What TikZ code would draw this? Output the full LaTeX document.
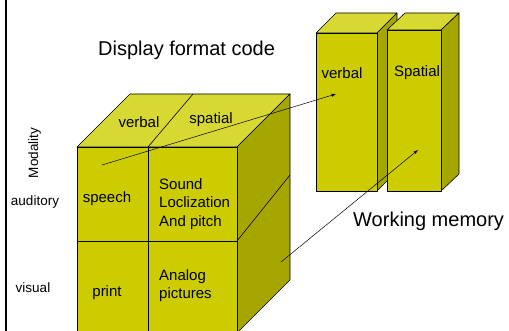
\documentclass[tikz,border=0pt]{standalone}
\usepackage{fontspec}
\setmainfont{Liberation Sans}
\usetikzlibrary{positioning,calc}
\definecolor{facefront}{RGB}{204,204,0}
\definecolor{facetop}{RGB}{216,216,51}
\definecolor{faceside}{RGB}{166,166,0}

\begin{document}
\begin{tikzpicture}
  [x=1pt,y=-1pt,
   face/.style={draw=black, line width=0.6pt, line join=round},
   frontface/.style={face, fill=facefront},
   topface/.style={face, fill=facetop},
   sideface/.style={face, fill=faceside},
   cell/.style={font=\fontsize{15}{18.5}\selectfont, align=left, inner sep=0pt},
   axis/.style={font=\fontsize{13.5}{16}\selectfont, inner sep=0pt},
   title/.style={font=\fontsize{20}{24}\selectfont, inner sep=0pt},
   link/.style={-latex, line width=0.5pt}
  ]
  \useasboundingbox (0,0) rectangle (509,331);

  % rule on the left
  \draw[line width=2pt] (6,0) -- (6,331);

  % working memory stores
  \draw[topface]  (316,33) -- (336,13) -- (397,13) -- (377,33) -- cycle;
  \draw[sideface] (377,33) -- (397,13) -- (397,171) -- (377,191) -- cycle;
  \draw[frontface] (316,33) rectangle (377,191);
  \draw[topface]  (387,30) -- (405,13) -- (459,13) -- (441,30) -- cycle;
  \draw[sideface] (441,30) -- (459,13) -- (459,174) -- (441,191) -- cycle;
  \draw[frontface] (387,30) rectangle (441,191);

  % the cube
  \draw[topface]  (77,147) -- (130,94) -- (290,94) -- (237,147) -- cycle;
  \draw[sideface] (237,147) -- (290,94) -- (290,280) -- (237,333) -- cycle;
  \draw[frontface] (77,147) rectangle (237,335);
  \draw[face] (148,147) -- (193,94);
  \draw[face] (148,147) -- (148,335);
  \draw[face] (77,241) -- (237,241);
  \draw[face] (237,241) -- (290,175);

  \node[title, anchor=base west] (displaytitle) at (98,56) {Display format code};
  \node[title, anchor=base west] (memorytitle) at (353,227) {Working memory};

  \node[cell, anchor=base] (verbaltop) at (139,128) {verbal};
  \node[cell, anchor=base] (spatialtop) at (211,124) {spatial};
  \node[cell, anchor=base] (speech) at (107,203) {speech};
  \node[cell, anchor=north west] (sound) at (159,178) {Sound\\Loclization\\And pitch};
  \node[cell, anchor=base] (print) at (107,297) {print};
  \node[cell, anchor=north west] (analog) at (159,269) {Analog\\pictures};

  \node[axis, anchor=base, rotate=90] (modality) at (38,153) {Modality};
  \node[axis, anchor=base] (auditory) at (35,206) {auditory};
  \node[axis, anchor=base] (visual) at (33,293) {visual};

  \node[cell, anchor=base] (verbalstore) at (342,79) {verbal};
  \node[cell, anchor=base] (spatialstore) at (417,77) {Spatial};

  \coordinate (speechpt) at (102,165);
  \coordinate (verbalpt) at (336,94);
  \coordinate (cubept) at (281,262);
  \coordinate (spatialpt) at (418,150);

  \draw[link] (speechpt) -- (verbalpt);
  \draw[link] (cubept) -- (spatialpt);
\end{tikzpicture}
\end{document}
